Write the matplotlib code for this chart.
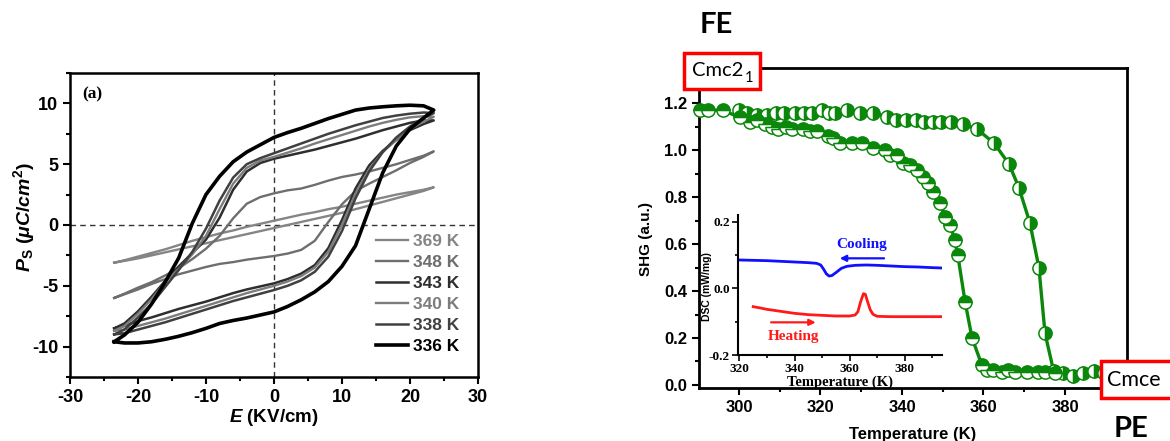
import matplotlib
matplotlib.use("Agg")
import matplotlib.pyplot as plt
from matplotlib.patches import Rectangle
from matplotlib.ticker import MultipleLocator

plt.rcParams['font.family'] = ['Liberation Sans', 'DejaVu Sans']
plt.rcParams['font.weight'] = 'bold'
plt.rcParams['axes.unicode_minus'] = False
plt.rcParams['mathtext.fontset'] = 'custom'
plt.rcParams['mathtext.rm'] = 'Liberation Sans:bold'
plt.rcParams['mathtext.it'] = 'Liberation Sans:italic:bold'
plt.rcParams['mathtext.bf'] = 'Liberation Sans:bold'

# ---------------- P-E hysteresis loops ----------------
E_GRID = [-23.5, -22, -20, -18, -16, -14, -12, -10, -8, -6, -4, -2, 0,
          2, 4, 6, 8, 10, 12, 14, 16, 18, 20, 22, 23.5]

loop_labels = ['369 K', '348 K', '343 K', '340 K', '338 K', '336 K']

up_369 = [-3.1, -2.9, -2.6, -2.3, -2.0, -1.65, -1.3, -1.0, -0.7, -0.45, -0.15, 0.1, 0.35,
          0.6, 0.85, 1.05, 1.3, 1.5, 1.75, 2.0, 2.25, 2.5, 2.7, 2.9, 3.1]
lo_369 = [-3.1, -2.95, -2.75, -2.5, -2.25, -2.0, -1.75, -1.5, -1.25, -1.0, -0.75, -0.5, -0.25,
          0.0, 0.25, 0.5, 0.75, 1.0, 1.3, 1.6, 1.9, 2.2, 2.5, 2.8, 3.1]

up_348 = [-6.0, -5.65, -5.15, -4.7, -4.15, -3.55, -2.8, -1.95, -0.9, 0.55, 1.75, 2.3, 2.6,
          2.85, 3.0, 3.3, 3.65, 3.95, 4.15, 4.4, 4.7, 5.0, 5.35, 5.7, 6.05]
lo_348 = [-6.0, -5.7, -5.3, -4.85, -4.45, -4.05, -3.75, -3.45, -3.2, -3.05, -2.85, -2.7, -2.55,
          -2.35, -2.05, -1.3, 0.25, 1.7, 2.8, 3.4, 3.95, 4.5, 5.1, 5.6, 6.05]

up_343 = [-8.5, -8.1, -7.1, -5.9, -4.6, -3.4, -2.3, -1.2, 0.6, 2.9, 4.4, 5.1, 5.45,
          5.7, 5.95, 6.2, 6.5, 6.8, 7.1, 7.45, 7.8, 8.1, 8.4, 8.6, 8.6]
lo_343 = [-8.5, -8.3, -7.9, -7.6, -7.25, -6.9, -6.6, -6.3, -5.95, -5.6, -5.3, -5.05, -4.8,
          -4.45, -4.0, -3.3, -1.9, 0.4, 3.0, 4.9, 6.1, 7.0, 7.8, 8.3, 8.6]

up_340 = [-8.7, -8.3, -7.3, -6.1, -4.7, -3.6, -2.4, -0.9, 1.3, 3.4, 4.7, 5.3, 5.6,
          5.95, 6.3, 6.7, 7.05, 7.4, 7.75, 8.1, 8.4, 8.65, 8.85, 8.95, 8.9]
lo_340 = [-8.7, -8.6, -8.3, -8.0, -7.7, -7.35, -7.0, -6.65, -6.3, -5.95, -5.6, -5.3, -5.0,
          -4.65, -4.2, -3.5, -2.2, 0.0, 2.6, 4.6, 6.0, 7.0, 7.9, 8.5, 8.9]

up_338 = [-9.0, -8.6, -7.6, -6.5, -5.1, -3.7, -2.2, -0.3, 2.0, 3.9, 5.0, 5.5, 5.9,
          6.3, 6.7, 7.1, 7.5, 7.85, 8.2, 8.5, 8.8, 9.0, 9.15, 9.25, 9.2]
lo_338 = [-9.0, -8.9, -8.6, -8.3, -8.0, -7.65, -7.3, -6.95, -6.6, -6.25, -5.95, -5.65, -5.35,
          -5.0, -4.55, -3.85, -2.6, -0.5, 2.2, 4.4, 6.0, 7.2, 8.1, 8.8, 9.2]

up_336 = [-9.6, -9.05, -8.0, -6.5, -4.7, -2.7, 0.15, 2.5, 4.0, 5.2, 6.0, 6.6, 7.2,
          7.6, 7.95, 8.35, 8.75, 9.1, 9.45, 9.62, 9.72, 9.8, 9.85, 9.8, 9.45]
lo_336 = [-9.6, -9.7, -9.7, -9.6, -9.4, -9.15, -8.85, -8.5, -8.1, -7.85, -7.65, -7.4, -7.15,
          -6.7, -6.15, -5.5, -4.65, -3.4, -1.7, 1.3, 4.3, 6.5, 7.9, 8.8, 9.45]

loop_upper = [up_369, up_348, up_343, up_340, up_338, up_336]
loop_lower = [lo_369, lo_348, lo_343, lo_340, lo_338, lo_336]
loop_colors = ['#858585', '#6e6e6e', '#2e2e2e', '#7c7c7c', '#404040', '#000000']
loop_widths = [1.7, 1.7, 1.8, 1.7, 1.8, 2.6]

# ---------------- SHG data ----------------
T_heat = [300, 302, 304.5, 307, 309, 311, 313.7, 316, 318, 320.4, 322, 323.5, 326.5, 329.7,
          332.9, 336.3, 338.5, 341, 343.5, 345.5, 347.5, 349.5, 352, 355, 358.4, 362.6,
          366.3, 368.7, 371.4, 373.6, 375.1, 377.2, 379.5, 382, 384.5, 387, 389.5]
SHG_heat = [1.17, 1.16, 1.15, 1.15, 1.16, 1.16, 1.16, 1.16, 1.16, 1.17, 1.16, 1.16, 1.17, 1.16,
            1.16, 1.14, 1.13, 1.13, 1.13, 1.12, 1.12, 1.12, 1.12, 1.11, 1.09, 1.03,
            0.94, 0.84, 0.69, 0.50, 0.22, 0.06, 0.05, 0.04, 0.05, 0.06, 0.05]

T_cool = [290.5, 292.5, 296, 300.2, 302.7, 304.5, 306.4, 308, 309.6, 311.5, 313, 315.7, 317.5,
          319.1, 321.8, 323, 324.8, 327.7, 330.2, 332.9, 335.8, 337, 338.8, 340.2, 342,
          343.7, 345.2, 346.4, 347.6, 349.3, 350.6, 351.8, 353, 353.7, 355.5, 357.2, 359.6,
          360.8, 362.4, 364.5, 366, 367.7, 370.6, 373.4, 375.1, 377.5]
SHG_cool = [1.17, 1.17, 1.17, 1.14, 1.12, 1.13, 1.11, 1.10, 1.09, 1.10, 1.09, 1.09, 1.08,
            1.08, 1.06, 1.05, 1.03, 1.03, 1.03, 1.01, 1.0, 0.98, 0.98, 0.945, 0.935,
            0.915, 0.885, 0.86, 0.82, 0.775, 0.715, 0.68, 0.617, 0.553, 0.353, 0.2, 0.085,
            0.064, 0.064, 0.055, 0.064, 0.055, 0.055, 0.055, 0.055, 0.05]

# ---------------- DSC inset data ----------------
T_dsc_cool = [320, 325, 330, 335, 340, 345, 348, 349.5, 350.5, 351.5, 352.5, 353.5, 355, 357,
              359, 362, 366, 370, 375, 380, 385, 390, 393.5]
DSC_cool = [0.085, 0.084, 0.083, 0.081, 0.079, 0.077, 0.075, 0.070, 0.058, 0.044, 0.037, 0.038,
            0.047, 0.060, 0.066, 0.069, 0.070, 0.069, 0.067, 0.065, 0.064, 0.062, 0.061]
T_dsc_heat = [325, 327, 330, 335, 340, 345, 350, 355, 360, 362, 363, 364, 365, 365.7, 366.5,
              367.5, 368.5, 370, 375, 380, 385, 390, 393.5]
DSC_heat = [-0.055, -0.058, -0.063, -0.069, -0.075, -0.079, -0.081, -0.083, -0.083, -0.080,
            -0.070, -0.040, -0.016, -0.018, -0.040, -0.065, -0.078, -0.084, -0.085, -0.085,
            -0.085, -0.085, -0.085]

GREEN = '#0b870b'

fig = plt.figure(figsize=(11.7, 4.41), dpi=100)

# ======== Left panel ========
ax1 = fig.add_axes([0.0598, 0.1451, 0.3487, 0.6894])
ax1.axhline(0, color='#333333', lw=1.0, ls=(0, (4, 3)), zorder=1)
ax1.axvline(0, color='#333333', lw=1.0, ls=(0, (4, 3)), zorder=1)
for lab, up, lo, c, w in zip(loop_labels, loop_upper, loop_lower, loop_colors, loop_widths):
    xs = E_GRID + E_GRID[::-1]
    ys = lo + up[::-1]
    ax1.plot(xs, ys, color=c, lw=w, label=lab, zorder=2, solid_joinstyle='round')
ax1.set_xlim(-30, 30)
ax1.set_ylim(-12.5, 12.5)
ax1.xaxis.set_major_locator(MultipleLocator(10))
ax1.xaxis.set_minor_locator(MultipleLocator(5))
ax1.yaxis.set_major_locator(MultipleLocator(5))
ax1.yaxis.set_minor_locator(MultipleLocator(2.5))
ax1.tick_params(which='both', direction='out', width=1.5, labelsize=13)
ax1.tick_params(which='major', length=5)
ax1.tick_params(which='minor', length=3)
for s in ax1.spines.values():
    s.set_linewidth(1.8)
ax1.set_xlabel(r'$\mathit{E}$ (KV/cm)', fontsize=13.5, fontweight='bold', labelpad=1)
ax1.set_ylabel(r'$\mathit{P}_{\mathrm{S}}$ ($\mathit{\mu C/cm}^{\mathrm{2}}$)', fontsize=14,
               fontweight='bold')
ax1.yaxis.set_label_coords(-0.081, 0.526)
ax1.text(0.03, 0.955, '(a)', transform=ax1.transAxes, fontsize=12.5, fontweight='bold',
         family='Liberation Serif', va='top', ha='left')
leg = ax1.legend(loc='upper left', bbox_to_anchor=(0.75, 0.47), frameon=False,
                 fontsize=12.5, handlelength=1.85, handletextpad=0.3, labelspacing=0.33,
                 borderpad=0, borderaxespad=0)
for txt, c in zip(leg.get_texts(), loop_colors):
    txt.set_color(c)

# ======== Right panel ========
ax2 = fig.add_axes([0.5974, 0.1202, 0.3658, 0.7256])
ax2.plot(T_heat, SHG_heat, '-', color=GREEN, lw=2.4, zorder=3)
ax2.plot(T_heat, SHG_heat, 'o', ms=9.5, mfc=GREEN, mfcalt='white', mec=GREEN, mew=1.1,
         fillstyle='right', zorder=4)
ax2.plot(T_cool, SHG_cool, '-', color=GREEN, lw=2.4, zorder=3)
ax2.plot(T_cool, SHG_cool, 'o', ms=9.5, mfc=GREEN, mfcalt='white', mec=GREEN, mew=1.1,
         fillstyle='top', zorder=4, clip_on=False)
ax2.set_xlim(290.2, 395.2)
ax2.set_ylim(-0.013, 1.35)
ax2.xaxis.set_major_locator(MultipleLocator(20))
ax2.xaxis.set_minor_locator(MultipleLocator(10))
ax2.yaxis.set_major_locator(MultipleLocator(0.2))
ax2.yaxis.set_minor_locator(MultipleLocator(0.1))
ax2.tick_params(which='both', direction='out', width=1.5, labelsize=12)
ax2.tick_params(which='major', length=5)
ax2.tick_params(which='minor', length=3)
for s in ax2.spines.values():
    s.set_linewidth(2.0)
ax2.set_xlabel('Temperature (K)', fontsize=12, fontweight='bold', labelpad=9)
ax2.set_ylabel('SHG (a.u.)', fontsize=11, fontweight='bold')
ax2.yaxis.set_label_coords(-0.107, 0.466)

# ======== Inset ========
ax3 = fig.add_axes([0.6308, 0.195, 0.1743, 0.3175])
ax3.patch.set_alpha(0)
ax3.plot(T_dsc_cool, DSC_cool, color='#1010ff', lw=2.0)
ax3.plot(T_dsc_heat, DSC_heat, color='#ff1a1a', lw=2.0)
ax3.set_xlim(319.5, 393.5)
ax3.set_ylim(-0.2, 0.22)
ax3.spines['top'].set_visible(False)
ax3.spines['right'].set_visible(False)
for s in ['left', 'bottom']:
    ax3.spines[s].set_linewidth(1.5)
ax3.xaxis.set_major_locator(MultipleLocator(20))
ax3.xaxis.set_minor_locator(MultipleLocator(10))
ax3.yaxis.set_major_locator(MultipleLocator(0.2))
ax3.yaxis.set_minor_locator(MultipleLocator(0.1))
ax3.tick_params(which='both', direction='out', width=1.2, labelsize=9.5,
                labelfontfamily='Liberation Serif', pad=2)
ax3.tick_params(which='major', length=4)
ax3.tick_params(which='minor', length=2.5)
ax3.set_xlabel('Temperature (K)', fontsize=10.5, fontweight='bold', family='Liberation Serif',
               labelpad=0)
ax3.set_ylabel('DSC (mW/mg)', fontsize=7.5, fontweight='bold')
ax3.yaxis.set_label_coords(-0.13, 0.486)
ax3.annotate('', xy=(355.4, 0.09), xytext=(373.5, 0.09),
             arrowprops=dict(arrowstyle='-|>', color='#1010ff', lw=1.6, mutation_scale=9))
ax3.text(364.5, 0.132, 'Cooling', color='#1010ff', fontsize=11, fontweight='bold',
         family='Liberation Serif', ha='center', va='center')
ax3.annotate('', xy=(348.7, -0.102), xytext=(330.5, -0.102),
             arrowprops=dict(arrowstyle='-|>', color='#ff1a1a', lw=1.6, mutation_scale=9))
ax3.text(339.5, -0.145, 'Heating', color='#ff1a1a', fontsize=11, fontweight='bold',
         family='Liberation Serif', ha='center', va='center')

# ======== Annotations (figure level) ========
W, H = 1170.0, 441.0
fig.text(716 / W, 1 - 25 / H, 'FE', fontsize=21, fontweight='bold', family=['Lato', 'DejaVu Sans'],
         ha='center', va='center')
fig.text(1131 / W, 1 - 429 / H, 'PE', fontsize=21, fontweight='bold', family=['Lato', 'DejaVu Sans'],
         ha='center', va='center')
fig.patches.append(Rectangle((684 / W, 1 - 89 / H), 76 / W, 36 / H, transform=fig.transFigure,
                             facecolor='white', edgecolor='#ff0000', lw=2.5, zorder=5))
t_cmc = fig.text(692 / W, 1 - 71 / H, 'Cmc2', fontsize=14.5, fontweight='normal',
                 family=['Lato', 'DejaVu Sans'], ha='left', va='center', zorder=6)
fig.canvas.draw()
bb = t_cmc.get_window_extent()
fig.text((bb.x1 + 1) / W, 1 - 78 / H, '1', fontsize=10.5, fontweight='normal',
         family=['Lato', 'DejaVu Sans'], ha='left', va='center', zorder=6)
fig.patches.append(Rectangle((1101 / W, 1 - 398 / H), 80 / W, 37 / H, transform=fig.transFigure,
                             facecolor='white', edgecolor='#ff0000', lw=2.5, zorder=5))
fig.text(1107 / W, 1 - 380 / H, 'Cmce', fontsize=15.5, fontweight='normal',
         family=['Lato', 'DejaVu Sans'], ha='left', va='center', zorder=6)

fig.savefig('out.png', dpi=100)
